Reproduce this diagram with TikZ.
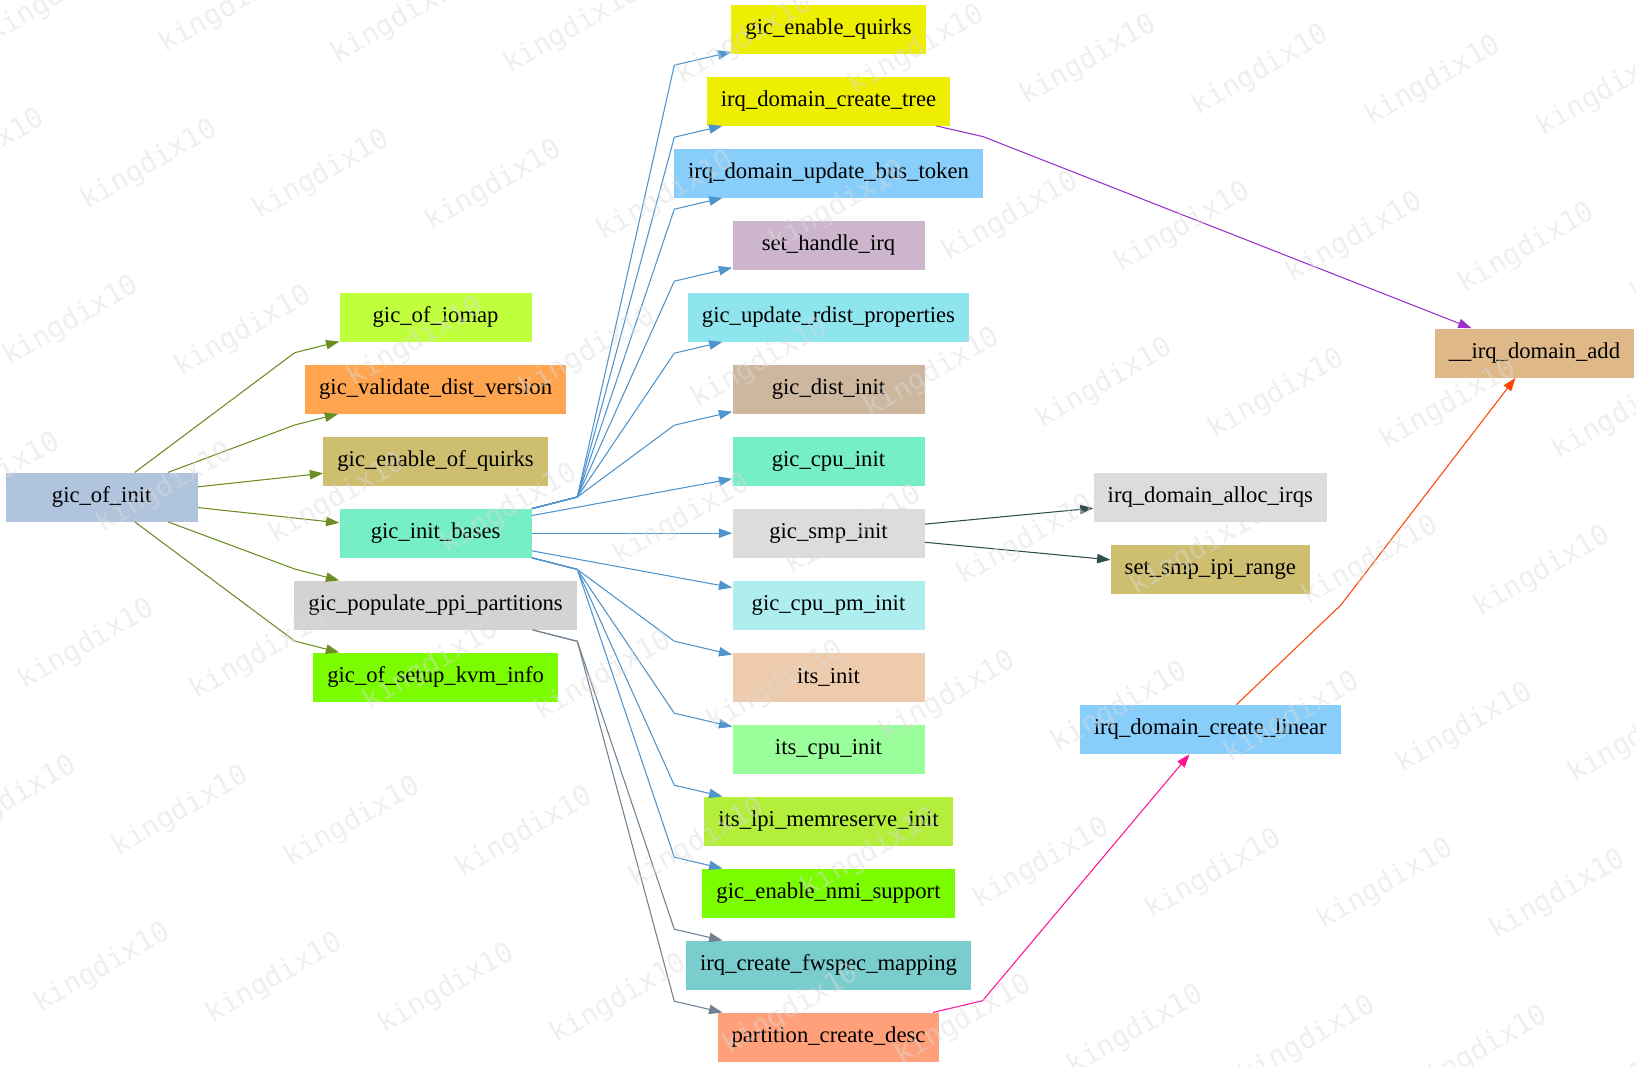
\documentclass[tikz,border=0pt]{standalone}
\usepackage{fontspec}
\setmainfont{Liberation Serif}
\newfontfamily\markfont{DejaVu Sans Mono}
\usepackage{tikz}
\usetikzlibrary{positioning, arrows.meta}

\definecolor{lsteel}{HTML}{B0C4DE}
\definecolor{olivea}{HTML}{C0FF3E}
\definecolor{tanone}{HTML}{FFA54F}
\definecolor{lgold}{HTML}{CDBE70}
\definecolor{aqua}{HTML}{76EEC6}
\definecolor{lgray}{HTML}{D3D3D3}
\definecolor{lawn}{HTML}{7CFC00}
\definecolor{yel}{HTML}{EEEE00}
\definecolor{lsky}{HTML}{87CEFA}
\definecolor{thist}{HTML}{CDB5CD}
\definecolor{cadet}{HTML}{8EE5EE}
\definecolor{bisq}{HTML}{CDB79E}
\definecolor{gains}{HTML}{DCDCDC}
\definecolor{pturq}{HTML}{AFEEEE}
\definecolor{peach}{HTML}{EECBAD}
\definecolor{pgreen}{HTML}{9AFF9A}
\definecolor{oliveb}{HTML}{B3EE3A}
\definecolor{dslate}{HTML}{79CDCD}
\definecolor{lsalmon}{HTML}{FFA07A}
\definecolor{burly}{HTML}{DEB887}
% edge colours
\definecolor{ofgreen}{HTML}{6B8E23}
\definecolor{baseblue}{HTML}{4F94CD}
\definecolor{ppigray}{HTML}{708090}
\definecolor{treepurple}{HTML}{9932CC}
\definecolor{smpdark}{HTML}{2F4F4F}
\definecolor{descpink}{HTML}{FF1493}
\definecolor{linorange}{HTML}{FF4500}

\tikzstyle{func} = [rectangle, minimum width=144pt, minimum height=36.75pt, inner xsep=10.5pt, text centered, font=\fontsize{17}{20}\selectfont]
\tikzstyle{arrow} = [line width=0.8pt, -{Triangle[length=10pt,width=7pt]}]
\tikzstyle{wmark} = [rotate=30, font=\markfont\fontsize{21}{24}\selectfont, text=black!14, text opacity=0.45]

\begin{document}
\begin{tikzpicture}[x=0.75pt, y=-0.75pt, node distance=54pt]
\useasboundingbox (0,0) rectangle (1636,1067);

% column 1
\node (ofinit) [func, fill=lsteel] at (101.7,497.2) {gic\_of\_init};

% column 2
\node (iomap) [func, fill=olivea] at (435.6,317.2) {gic\_of\_iomap};
\node (validate) [func, fill=tanone, below of=iomap] {gic\_validate\_dist\_version};
\node (ofquirks) [func, fill=lgold, below of=validate] {gic\_enable\_of\_quirks};
\node (bases) [func, fill=aqua, below of=ofquirks] {gic\_init\_bases};
\node (ppi) [func, fill=lgray, below of=bases] {gic\_populate\_ppi\_partitions};
\node (kvm) [func, fill=lawn, below of=ppi] {gic\_of\_setup\_kvm\_info};

% column 3
\node (quirks) [func, fill=yel] at (828.5,29.2) {gic\_enable\_quirks};
\node (tree) [func, fill=yel, below of=quirks] {irq\_domain\_create\_tree};
\node (token) [func, fill=lsky, below of=tree] {irq\_domain\_update\_bus\_token};
\node (handle) [func, fill=thist, below of=token] {set\_handle\_irq};
\node (rdist) [func, fill=cadet, below of=handle] {gic\_update\_rdist\_properties};
\node (dist) [func, fill=bisq, below of=rdist] {gic\_dist\_init};
\node (cpu) [func, fill=aqua, below of=dist] {gic\_cpu\_init};
\node (smp) [func, fill=gains, below of=cpu] {gic\_smp\_init};
\node (cpupm) [func, fill=pturq, below of=smp] {gic\_cpu\_pm\_init};
\node (its) [func, fill=peach, below of=cpupm] {its\_init};
\node (itscpu) [func, fill=pgreen, below of=its] {its\_cpu\_init};
\node (lpi) [func, fill=oliveb, below of=itscpu] {its\_lpi\_memreserve\_init};
\node (nmi) [func, fill=lawn, below of=lpi] {gic\_enable\_nmi\_support};
\node (fwspec) [func, fill=dslate, below of=nmi] {irq\_create\_fwspec\_mapping};
\node (desc) [func, fill=lsalmon, below of=fwspec] {partition\_create\_desc};

% column 4 and 5
\node (alloc) [func, fill=gains] at (1210.3,497.2) {irq\_domain\_alloc\_irqs};
\node (ipi) [func, fill=lgold, below of=alloc] {set\_smp\_ipi\_range};
\node (linear) [func, fill=lsky] at (1210.3,729.5) {irq\_domain\_create\_linear};
\node (domadd) [func, fill=burly] at (1534.5,353) {\_\_irq\_domain\_add};

% gic_of_init calls
\draw [arrow, ofgreen] (ofinit) -- (294.7,352.7) -- (iomap);
\draw [arrow, ofgreen] (ofinit) -- (294.7,425) -- (validate);
\draw [arrow, ofgreen] (ofinit) -- (ofquirks);
\draw [arrow, ofgreen] (ofinit) -- (bases);
\draw [arrow, ofgreen] (ofinit) -- (294.7,569) -- (ppi);
\draw [arrow, ofgreen] (ofinit) -- (294.7,641) -- (kvm);

% gic_init_bases calls
\draw [arrow, baseblue] (bases) -- (577.3,497) -- (674.3,65.2) -- (quirks);
\draw [arrow, baseblue] (bases) -- (577.3,497) -- (674.3,137.2) -- (tree);
\draw [arrow, baseblue] (bases) -- (577.3,497) -- (674.3,209.2) -- (token);
\draw [arrow, baseblue] (bases) -- (577.3,497) -- (674.3,281.2) -- (handle);
\draw [arrow, baseblue] (bases) -- (577.3,497) -- (674.3,353.2) -- (rdist);
\draw [arrow, baseblue] (bases) -- (577.3,497) -- (674.3,425.2) -- (dist);
\draw [arrow, baseblue] (bases) -- (cpu);
\draw [arrow, baseblue] (bases) -- (smp);
\draw [arrow, baseblue] (bases) -- (cpupm);
\draw [arrow, baseblue] (bases) -- (577.3,569.4) -- (674.3,641.2) -- (its);
\draw [arrow, baseblue] (bases) -- (577.3,569.4) -- (674.3,713.2) -- (itscpu);
\draw [arrow, baseblue] (bases) -- (577.3,569.4) -- (674.3,785.2) -- (lpi);
\draw [arrow, baseblue] (bases) -- (577.3,569.4) -- (674.3,857.2) -- (nmi);

% gic_populate_ppi_partitions calls
\draw [arrow, ppigray] (ppi) -- (577.3,641.3) -- (674.3,929.2) -- (fwspec);
\draw [arrow, ppigray] (ppi) -- (577.3,641.3) -- (674.3,1001.2) -- (desc);

% the rest
\draw [arrow, treepurple] (tree) -- (983.3,136.7) -- (domadd);
\draw [arrow, smpdark] (smp) -- (alloc);
\draw [arrow, smpdark] (smp) -- (ipi);
\draw [arrow, descpink] (desc) -- (982.6,1000.7) -- (linear);
\draw [arrow, linorange] (linear) -- (1340.8,605.1) -- (domadd);

% watermark
\begin{scope}
\clip (0,0) rectangle (1636,1067);
\foreach \i in {-1,...,12}
  \foreach \j in {-1,...,5}
    \node (wm\i-\j) [wmark] at ({149.2+172.2*\i-78.3*\j},{164.9+10.4*\i+156.5*\j}) {kingdix10};
\end{scope}

\end{tikzpicture}
\end{document}
